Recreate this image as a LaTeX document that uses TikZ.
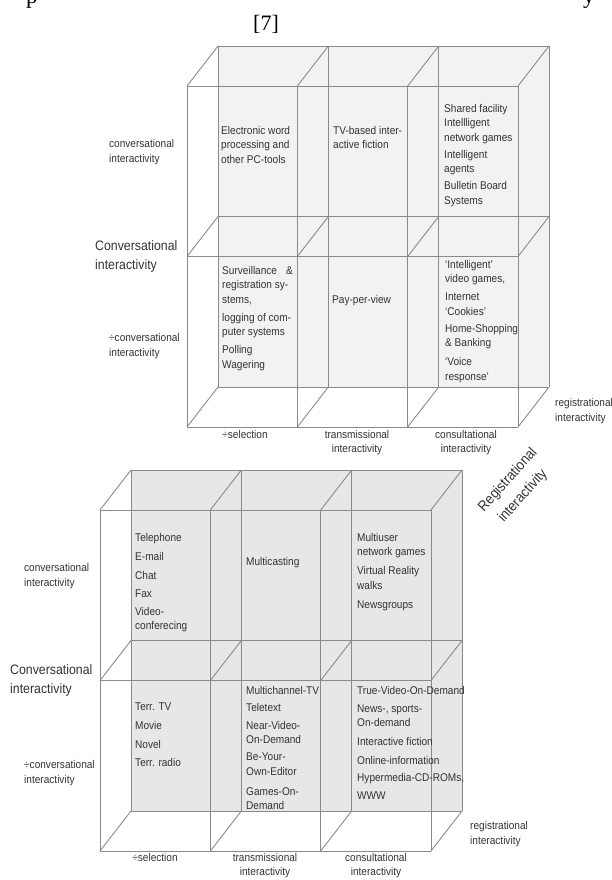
\documentclass[tikz,border=0pt]{standalone}
\usepackage{fontspec}
\newfontfamily\labfont[FakeStretch=0.9]{Liberation Sans}
\newfontfamily\serfont{Liberation Serif}
\definecolor{cubeA}{HTML}{F1F3F3}
\definecolor{cubeB}{HTML}{E7E7E7}
\definecolor{edgegray}{HTML}{8A8A8A}
\definecolor{inkgray}{HTML}{333333}

\begin{document}
\begin{tikzpicture}[x=1pt,y=-1pt]
    \tikzset{
      frameline/.style={draw=edgegray, line width=0.9pt},
      cell/.style={anchor=north west, align=left, inner sep=0pt, text=inkgray,
        font=\labfont\fontsize{11.2}{14.5}\selectfont},
      axis/.style={anchor=north west, align=left, inner sep=0pt, text=inkgray,
        font=\labfont\fontsize{11.2}{15}\selectfont},
      bigaxis/.style={anchor=north west, align=left, inner sep=0pt, text=inkgray,
        font=\labfont\fontsize{13.7}{19}\selectfont},
      colaxis/.style={anchor=north, align=center, inner sep=0pt, text=inkgray,
        font=\labfont\fontsize{11.2}{14}\selectfont},
      slanted/.style={anchor=center, inner sep=0pt, rotate=48, text=inkgray,
        font=\labfont\fontsize{14.5}{17}\selectfont}
    }
    \useasboundingbox (0,0) rectangle (611,880);

    % caption remains
    \node[anchor=base west, inner sep=0pt, font=\serfont\fontsize{23}{23}\selectfont] (capp) at (26,4) {p};
    \node[anchor=base west, inner sep=0pt, font=\serfont\fontsize{23}{23}\selectfont] (capy) at (583,4) {y};
    \node[inner sep=0pt, font=\serfont\fontsize{22}{22}\selectfont] (cite) at (266,24) {[7]};

    % cubes
    \foreach \ox/\oy/\fc in {187/86/cubeA, 100/510/cubeB} {
      \begin{scope}[shift={(\ox,\oy)}]
        \fill[\fc] (31,-40) rectangle (362,301);
        \foreach \x in {0,110.33,220.67,331} {
          \draw[frameline] (\x,0) -- (\x,341);
          \draw[frameline] (\x+31,-40) -- (\x+31,301);
          \foreach \y in {0,170.5,341}
            \draw[frameline] (\x,\y) -- (\x+31,\y-40);
        }
        \foreach \y in {0,170.5,341} {
          \draw[frameline] (0,\y) -- (331,\y);
          \draw[frameline] (31,\y-40) -- (362,\y-40);
        }
      \end{scope}
    }

    % upper cube: cells
    \node[cell] (uTL) at (221,126) {Electronic word\\processing and\\other PC-tools};
    \node[cell] (uTM) at (333,126) {TV-based inter-\\active fiction};
    \node[cell] (uTR) at (444,104) {Shared facility\\Intellligent\\network games\\[2.5pt]Intelligent\\agents\\[2.5pt]Bulletin Board\\Systems};
    \node[cell] (uBL) at (222,266) {Surveillance\hspace{9pt}\&\\registration sy-\\stems,\\[3.5pt]logging of com-\\puter systems\\[3.5pt]Polling\\Wagering};
    \node[cell] (uBM) at (332,295) {Pay-per-view};
    \node[cell] (uBR) at (445,260) {‘Intelligent’\\video games,\\[3.5pt]Internet\\‘Cookies’\\[2.5pt]Home-Shopping\\\& Banking\\[4.5pt]‘Voice\\response’};

    % upper cube: axes
    \node[axis] (uconv) at (109,139) {conversational\\interactivity};
    \node[bigaxis] (uConv) at (95,240) {Conversational\\interactivity};
    \node[axis] (unconv) at (109,333) {÷conversational\\interactivity};
    \node[colaxis] (usel) at (245,430) {÷selection};
    \node[colaxis] (utrans) at (357,430) {transmissional\\interactivity};
    \node[colaxis] (ucons) at (466,430) {consultational\\interactivity};
    \node[axis] (ureg) at (555,398) {registrational\\interactivity};

    % registrational axis title
    \node[slanted] (Reg) at (508,480) {Registrational};
    \node[slanted] (Regi) at (523,496) {interactivity};

    % lower cube: cells
    \node[cell] (lTL) at (135,533) {Telephone\\[4.5pt]E-mail\\[4.5pt]Chat\\[4pt]Fax\\[3pt]Video-\\conferecing};
    \node[cell] (lTM) at (246,557) {Multicasting};
    \node[cell] (lTR) at (357,533) {Multiuser\\network games\\[4.5pt]Virtual Reality\\walks\\[4.5pt]Newsgroups};
    \node[cell] (lBL) at (135,703) {Terr. TV\\[4.5pt]Movie\\[4pt]Novel\\[4pt]Terr. radio};
    \node[cell] (lBM) at (246,686) {Multichannel-TV\\[2.5pt]Teletext\\[3.5pt]Near-Video-\\On-Demand\\[2.5pt]Be-Your-\\Own-Editor\\[5.5pt]Games-On-\\Demand};
    \node[cell] (lBR) at (357,686) {True-Video-On-Demand\\[3.5pt]News-, sports-\\On-demand\\[4.5pt]Interactive fiction\\[4.5pt]Online-information\\[2.5pt]Hypermedia-CD-ROMs,\\[3.5pt]WWW};

    % lower cube: axes
    \node[axis] (lconv) at (24,563) {conversational\\interactivity};
    \node[bigaxis] (lConv) at (10,664) {Conversational\\interactivity};
    \node[axis] (lnconv) at (24,760) {÷conversational\\interactivity};
    \node[colaxis] (lsel) at (155,853) {÷selection};
    \node[colaxis] (ltrans) at (265,853) {transmissional\\interactivity};
    \node[colaxis] (lcons) at (376,853) {consultational\\interactivity};
    \node[axis] (lreg) at (470,821) {registrational\\interactivity};
\end{tikzpicture}
\end{document}
